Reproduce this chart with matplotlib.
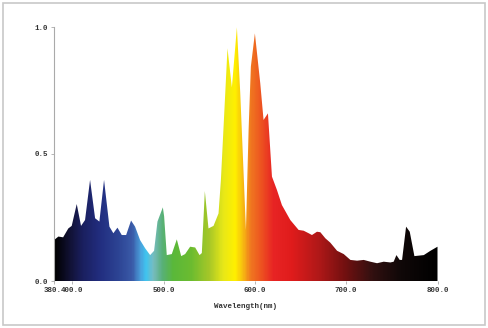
import numpy as np
import matplotlib
matplotlib.use("Agg")
import matplotlib.pyplot as plt
import matplotlib.transforms as mtransforms
from matplotlib.colors import LinearSegmentedColormap
from matplotlib.patches import Rectangle

# spectrum outline
wavelength = [380, 384.8, 390, 395.7, 399.4, 404.9, 409.6, 414, 419.5, 425, 429.7,
              434.8, 440.7, 445, 449.5, 454.2, 459, 464.4, 468.8, 474.3, 479.8,
              485.3, 489.6, 493.3, 499.2, 500.6, 503.5, 509, 514.5, 519.3, 523.6,
              529.1, 534.6, 539.4, 541.9, 545.2, 549.2, 554.7, 560.2, 562.8, 570,
              574.8, 580.3, 584, 590.2, 593.1, 595.6, 600, 605.9, 609.5, 614.3,
              618.7, 624.2, 629.6, 638.8, 647.9, 653.4, 658.9, 662.5, 668, 671.7,
              677.2, 682.6, 690, 697.3, 704.6, 711.9, 719.2, 726.5, 733.8, 741.1,
              748.4, 752, 755, 758.6, 761.2, 765.6, 769.6, 774.7, 785, 792.3, 800]
intensity = [0.161, 0.175, 0.172, 0.207, 0.217, 0.303, 0.217, 0.240, 0.398, 0.247, 0.234,
             0.398, 0.214, 0.188, 0.210, 0.181, 0.181, 0.238, 0.214, 0.161, 0.129,
             0.102, 0.119, 0.234, 0.290, 0.255, 0.102, 0.106, 0.164, 0.098, 0.106,
             0.135, 0.132, 0.102, 0.110, 0.354, 0.207, 0.217, 0.266, 0.398, 0.916,
             0.762, 0.999, 0.739, 0.201, 0.594, 0.844, 0.975, 0.778, 0.634, 0.660,
             0.411, 0.358, 0.299, 0.240, 0.201, 0.198, 0.188, 0.181, 0.194, 0.192,
             0.168, 0.151, 0.119, 0.106, 0.083, 0.080, 0.083, 0.076, 0.070, 0.076,
             0.073, 0.076, 0.102, 0.083, 0.083, 0.214, 0.194, 0.098, 0.102, 0.119, 0.135]

xticks = [380, 400, 500, 600, 700, 800]
xticklabels = ["380.", "400.0", "500.0", "600.0", "700.0", "800.0"]  # 380.0 is hidden under 400.0
yticks = [0.0, 0.5, 1.0]
yticklabels = ["0.0", "0.5", "1.0"]

# colour of the light along the wavelength axis
stops = [(380, "#000000"), (395, "#101030"), (410, "#1a1f5e"), (430, "#222e80"),
         (450, "#2d4494"), (465, "#3a5aa8"), (474, "#4aa0dc"), (480, "#3fc4f0"),
         (488, "#78bcc0"), (498, "#58b078"), (510, "#5ab83a"), (530, "#6cbc30"),
         (550, "#a8c828"), (565, "#e8e818"), (578, "#fff000"), (586, "#f8c010"),
         (595, "#f07820"), (605, "#ee5a20"), (620, "#e82424"), (640, "#e01c1c"),
         (670, "#b01818"), (700, "#701010"), (730, "#301010"), (760, "#100808"),
         (800, "#000000")]
cmap = LinearSegmentedColormap.from_list(
    "spec", [((w - 380) / 420, c) for w, c in stops])

font = {"family": "Liberation Mono", "size": 5.4, "weight": "bold", "color": "#333333"}

fig = plt.figure(figsize=(4.88, 3.28), dpi=100)
fig.patches.append(Rectangle((3 / 488, 3 / 328), 482 / 488, 322 / 328,
                             transform=fig.transFigure, fill=False,
                             edgecolor="#c8c8c8", linewidth=1.2))
ax = fig.add_axes([54 / 488, 47 / 328, 383.5 / 488, 254 / 328])

poly = ax.fill_between(wavelength, 0, intensity, color="none", linewidth=0)
grad = np.linspace(0, 1, 600).reshape(1, -1)
im = ax.imshow(grad, extent=[380, 800, 0, 1], aspect="auto", cmap=cmap,
               origin="lower", interpolation="bilinear")
im.set_clip_path(poly.get_paths()[0], transform=ax.transData)

ax.set_xlim(380, 800)
ax.set_ylim(0, 1.0)
for s in ["top", "right", "bottom"]:
    ax.spines[s].set_visible(False)
ax.spines["left"].set_color("#aaaaaa")
ax.spines["left"].set_linewidth(0.8)

ax.set_xticks(xticks)
ax.set_xticklabels(xticklabels, fontdict=font)
ax.set_yticks(yticks)
ax.set_yticklabels(yticklabels, fontdict=font)
ax.tick_params(axis="both", length=2.5, width=0.6, color="#aaaaaa", pad=2)
first = ax.get_xticklabels()[0]
first.set_transform(first.get_transform() +
                    mtransforms.ScaledTranslation(-1.2 / 100, 0, fig.dpi_scale_trans))
ax.set_xlabel("Wavelength(nm)", fontdict=font, labelpad=6)

fig.savefig("out.png", dpi=100)
